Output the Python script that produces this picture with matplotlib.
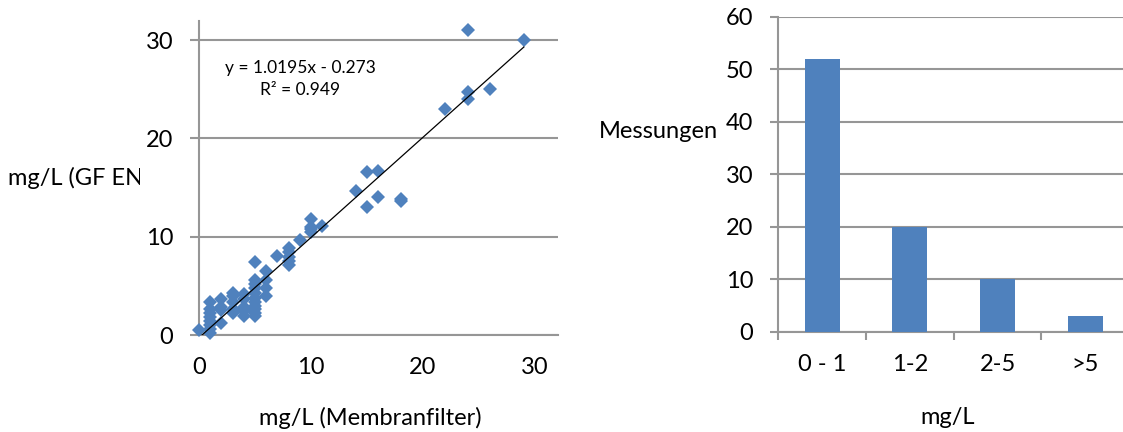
import numpy as np
import matplotlib.pyplot as plt
from matplotlib.transforms import Bbox

plt.rcParams['font.family'] = ['Lato', 'DejaVu Sans']

# scatter: membrane filter vs GF EN (mg/L)
mf_x = [0,
        1, 1, 1, 1, 1, 1, 1, 1,
        2, 2, 2, 2,
        3, 3, 3, 3, 3,
        4, 4, 4, 4, 4,
        5, 5, 5, 5, 5, 5, 5, 5, 5, 5, 5,
        6, 6, 6, 6,
        7,
        8, 8, 8, 8, 8,
        9,
        10, 10, 10, 10,
        11,
        14, 15, 15, 16, 16, 18, 18,
        22, 24, 24, 24, 26, 29]
gf_y = [0.5,
        0.2, 0.6, 1.0, 1.4, 1.8, 2.2, 2.6, 3.4,
        1.2, 2.5, 2.9, 3.7,
        2.2, 2.6, 3.4, 4.0, 4.3,
        1.9, 2.4, 2.9, 3.7, 4.2,
        1.9, 2.2, 2.6, 3.0, 3.4, 3.8, 4.3, 4.8, 5.2, 5.6, 7.4,
        4.0, 4.8, 5.6, 6.5,
        8.0,
        7.1, 7.5, 7.9, 8.4, 8.8,
        9.7,
        10.5, 10.8, 11.8, 11.0,
        11.1,
        14.6, 13.0, 16.6, 14.0, 16.7, 13.6, 13.8,
        23.0, 24.0, 24.7, 31.0, 25.0, 30.0]
slope = 1.0195
intercept = -0.273
r2 = 0.949

# histogram of measurements
classes = ['0 - 1', '1-2', '2-5', '>5']
counts = [52, 20, 10, 3]

blue = '#4F81BD'
grid_col = '#969696'
fs = 17

fig = plt.figure(figsize=(11.23, 4.32), dpi=100)

# ---- left: scatter with trend line
ax1 = fig.add_axes([0.1772, 0.2245, 0.3197, 0.7269])
ax1.plot(mf_x, gf_y, 'D', color=blue, ms=7, mew=0, zorder=3, clip_on=False)
xl = np.array([min(mf_x), max(mf_x)])
ax1.plot(xl, slope * xl + intercept, color='black', lw=0.9, zorder=4)
ax1.set_xlim(0, 32.05)
ax1.set_ylim(0, 31.94)
ax1.set_xticks([0, 10, 20, 30])
ax1.set_yticks([0, 10, 20, 30])
ax1.yaxis.grid(True, color=grid_col, lw=1.5)
ax1.set_axisbelow(True)
for s in ['top', 'right']:
    ax1.spines[s].set_visible(False)
for s in ['left', 'bottom']:
    ax1.spines[s].set_color(grid_col)
    ax1.spines[s].set_linewidth(1.5)
ax1.tick_params(axis='y', length=6.5, width=1.5, color=grid_col, pad=12, labelsize=fs)
ax1.tick_params(axis='x', length=0, pad=16, labelsize=fs)
ax1.text(300, 432 - 68, 'y = %.4fx - %.3f' % (slope, -intercept),
         transform=None, ha='center', va='center', fontsize=12.5)
ax1.text(300, 432 - 90, 'R² = %.3f' % r2,
         transform=None, ha='center', va='center', fontsize=12.5)

ylab = fig.text(8 / 1123, 1 - 178 / 432, 'mg/L (GF EN', ha='left', va='center', fontsize=fs)
ylab.set_clip_box(Bbox([[0, 0], [140, 432]]))
ylab.set_clip_on(True)
fig.text(370 / 1123, 1 - 418 / 432, 'mg/L (Membranfilter)', ha='center', va='center', fontsize=fs)

# ---- right: bar chart
ax2 = fig.add_axes([0.6931, 0.2322, 0.3123, 0.7291])
pos = np.arange(len(classes))
ax2.bar(pos, counts, width=0.4, color=blue, zorder=3)
ax2.set_xlim(-0.5, len(classes) - 0.5)
ax2.set_ylim(0, 60)
ax2.set_yticks(range(0, 61, 10))
ax2.set_xticks(pos)
ax2.set_xticklabels(classes)
ax2.set_xticks(np.arange(len(classes) + 1) - 0.5, minor=True)
ax2.yaxis.grid(True, color=grid_col, lw=1.5)
ax2.set_axisbelow(True)
for s in ['top', 'right']:
    ax2.spines[s].set_visible(False)
for s in ['left', 'bottom']:
    ax2.spines[s].set_color(grid_col)
    ax2.spines[s].set_linewidth(1.5)
ax2.tick_params(axis='y', length=6, width=1.5, color=grid_col, pad=12, labelsize=fs)
ax2.tick_params(axis='x', which='major', length=0, pad=16, labelsize=fs)
ax2.tick_params(axis='x', which='minor', length=6, width=1.5, color=grid_col)
fig.text(718 / 1123, 1 - 131 / 432, 'Messungen', ha='right', va='center', fontsize=fs)
fig.text(948 / 1123, 1 - 418 / 432, 'mg/L', ha='center', va='center', fontsize=fs)

fig.savefig('out.png', dpi=100)
